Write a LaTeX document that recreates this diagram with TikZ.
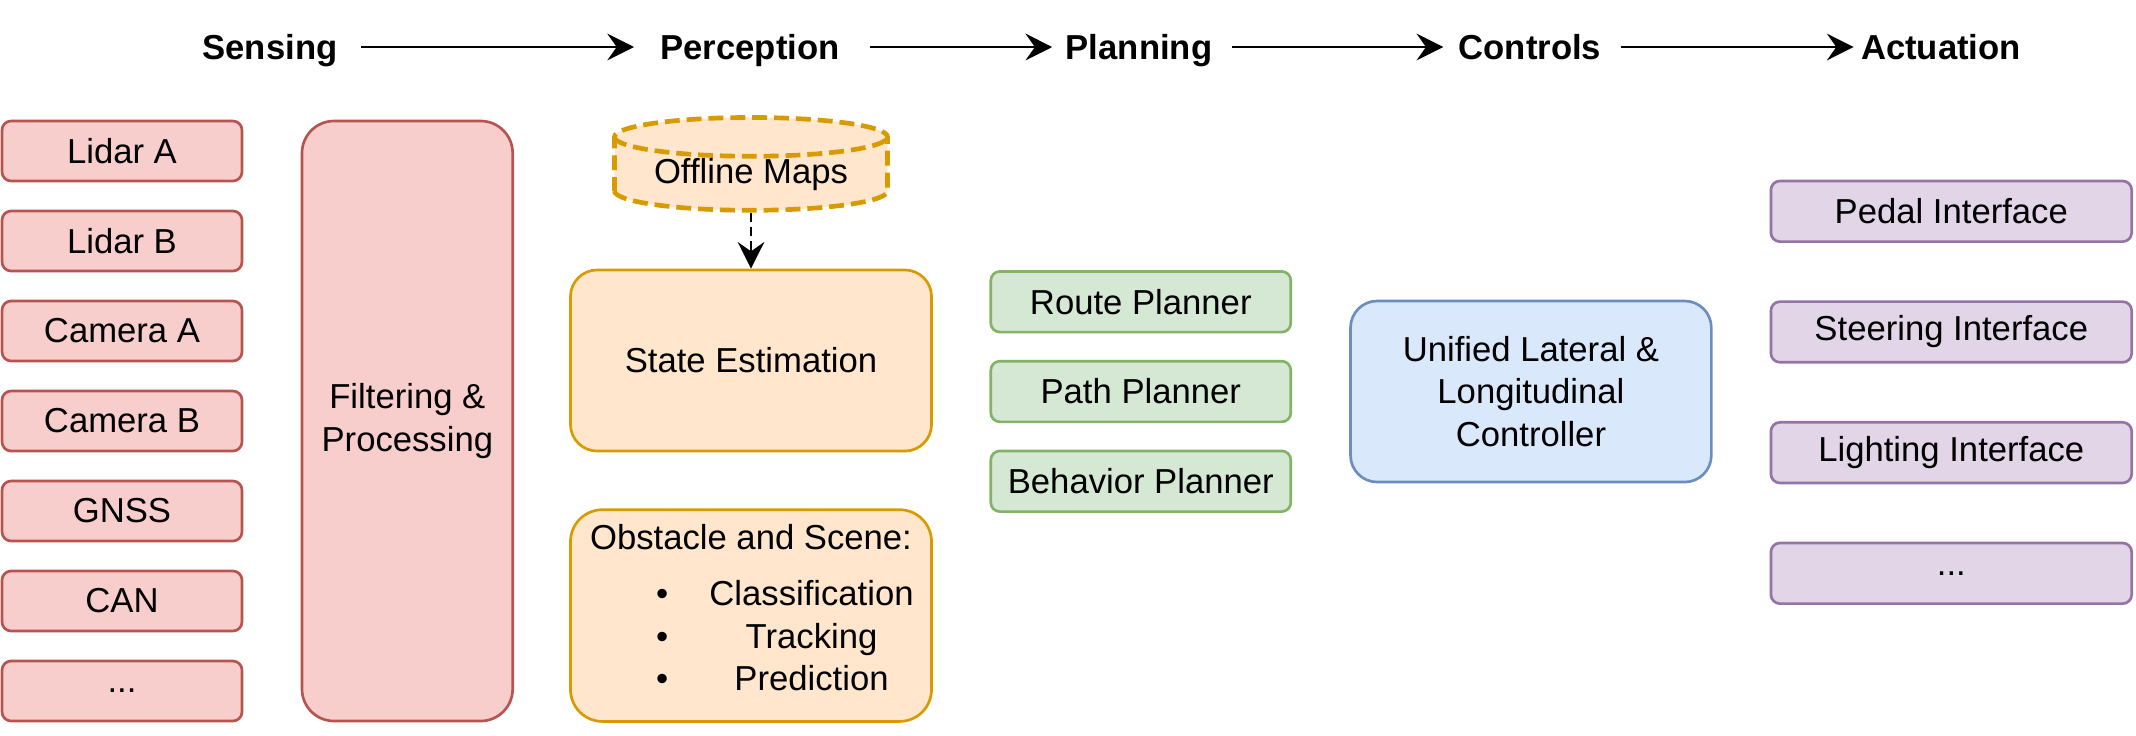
\documentclass[tikz,border=0pt]{standalone}
\usepackage{fontspec}
\setmainfont{Liberation Sans}
\usetikzlibrary{positioning,shapes.geometric,arrows.meta}

\definecolor{sensfill}{HTML}{F8CECC}
\definecolor{sensdraw}{HTML}{B85450}
\definecolor{percfill}{HTML}{FFE6CC}
\definecolor{percdraw}{HTML}{D79B00}
\definecolor{planfill}{HTML}{D5E8D4}
\definecolor{plandraw}{HTML}{82B366}
\definecolor{ctrlfill}{HTML}{DAE8FC}
\definecolor{ctrldraw}{HTML}{6C8EBF}
\definecolor{actfill}{HTML}{E1D5E7}
\definecolor{actdraw}{HTML}{9673A6}

\begin{document}
\begin{tikzpicture}[x=0.375pt,y=-0.375pt,
  font=\fontsize{13}{16}\selectfont,
  box/.style={draw,line width=1pt,rounded corners=3.4pt,inner sep=0pt,minimum width=135.3pt,minimum height=22.75pt,align=center},
  sensor/.style={box,draw=sensdraw,fill=sensfill,minimum width=90pt,minimum height=22.5pt},
  percep/.style={box,draw=percdraw,fill=percfill,minimum width=135.4pt,rounded corners=10pt},
  mapdb/.style={cylinder,shape border rotate=90,aspect=0.2,draw=percdraw,fill=percfill,line width=1.75pt,
    dash pattern=on 5.6pt off 2.6pt,inner sep=0pt,minimum width=102.4pt,minimum height=29.5pt},
  planner/.style={box,draw=plandraw,fill=planfill,minimum width=112.5pt},
  actuator/.style={box,draw=actdraw,fill=actfill},
  stage/.style={font=\fontsize{13}{16}\selectfont\bfseries,inner sep=0pt,text height=9.4pt,text depth=0pt},
  flow/.style={-{Stealth[length=10pt,width=10pt,inset=3.5pt]},line width=1pt}
]
\useasboundingbox (0,0) rectangle (2136,735);

% Stages
\node[stage] (sense) at (270,47) {Sensing};
\node[stage] (perc) at (750,47) {Perception};
\node[stage] (plan) at (1139,47) {Planning};
\node[stage] (ctrl) at (1530,47) {Controls};
\node[stage] (act) at (1941,47) {Actuation};
\draw[flow,shorten <=8.6pt,shorten >=9.7pt] (sense) -- (perc);
\draw[flow,shorten <=11.2pt,shorten >=4.9pt] (perc) -- (plan);
\draw[flow,shorten <=7.1pt,shorten >=5.6pt] (plan) -- (ctrl);
\draw[flow,shorten <=7.1pt,shorten >=2.6pt] (ctrl) -- (act);

% Sensing
\node[sensor] (lidara) at (122,151) {Lidar A};
\node[sensor,below=10.25pt of lidara] (lidarb) {Lidar B};
\node[sensor,below=10.25pt of lidarb] (cama) {Camera A};
\node[sensor,below=10.25pt of cama] (camb) {Camera B};
\node[sensor,below=10.25pt of camb] (gnss) {GNSS};
\node[sensor,below=10.25pt of gnss] (can) {CAN};
\node[sensor,below=10.25pt of can] (sdots) {...};
\node[sensor,right=21.5pt of camb,minimum width=79pt,minimum height=225pt,rounded corners=12pt] (filt) {Filtering \&\\Processing};

% Perception
\node[percep,minimum height=67.9pt] (state) at (751,360.5) {State Estimation};
\node[mapdb,above=21pt of state] (maps) {Offline Maps};
\node[percep,below=21pt of state,minimum height=79.4pt,rounded corners=12pt] (obst)
  {Obstacle and Scene:\\[5pt]
   \makebox[0pt]{\textbullet}\hspace{56pt}\makebox[0pt]{Classification}\makebox[10.6pt]{}\\
   \makebox[0pt]{\textbullet}\hspace{56pt}\makebox[0pt]{Tracking}\makebox[10.6pt]{}\\
   \makebox[0pt]{\textbullet}\hspace{56pt}\makebox[0pt]{Prediction}\makebox[10.6pt]{}\rule[-6pt]{0pt}{6pt}};
\draw[flow,dash pattern=on 3.4pt off 2pt] (maps) -- (state);

% Planning
\node[planner] (path) at (1140.8,391.5) {Path Planner};
\node[planner,above=9.9pt of path] (route) {Route Planner};
\node[planner,below=9.9pt of path] (behav) {Behavior Planner};

% Controls
\node[box,draw=ctrldraw,fill=ctrlfill,minimum height=67.9pt,rounded corners=10pt,right=21.4pt of path] (unified)
  {Unified Lateral \&\\Longitudinal\\Controller};

% Actuation
\node[actuator] (pedal) at (1951.3,211.3) {Pedal Interface};
\node[actuator,below=21.5pt of pedal] (steer) {Steering Interface};
\node[actuator,below=21.5pt of steer] (light) {Lighting Interface};
\node[actuator,below=21.5pt of light] (adots) {...};
\end{tikzpicture}
\end{document}
